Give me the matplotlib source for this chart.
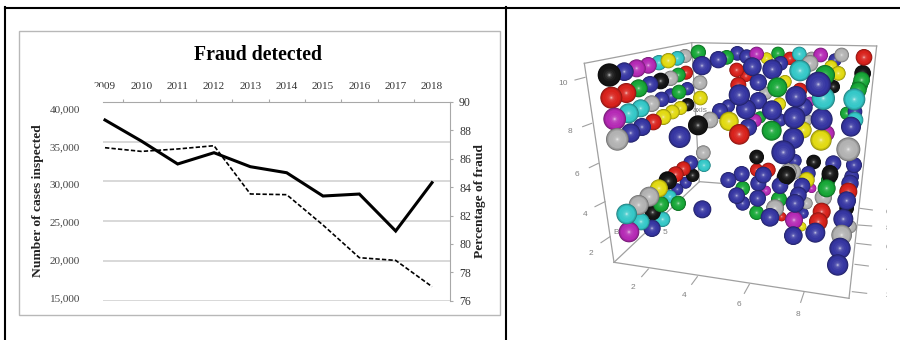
import matplotlib
matplotlib.use("Agg")
import matplotlib.pyplot as plt
from matplotlib.patches import Circle, Rectangle
from matplotlib.lines import Line2D
from matplotlib.colors import to_rgb
import numpy as np

W, H = 900, 340
SERIF = ['Liberation Serif', 'DejaVu Serif']
SANS = ['Liberation Sans', 'DejaVu Sans']

# ---------- left chart data ----------
years = ['2009', '2010', '2011', '2012', '2013', '2014', '2015', '2016', '2017', '2018']
cases_inspected = [37735, 35090, 32200, 33620, 31860, 31100, 28170, 28420, 23770, 29850]
pct_fraud = [86.78, 86.52, 86.69, 86.92, 83.52, 83.47, 81.33, 79.03, 78.84, 76.99]
cases_ticks = [15000, 20000, 25000, 30000, 35000, 40000]
pct_ticks = [76, 78, 80, 82, 84, 86, 88, 90]

# ---------- right chart data (x, y, radius) in the projected plane, per colour ----------
black = [(208,135,35),(362,153,25),(443,224,20),(474,286,30),(382,450,26),(458,436,20),(880,170,20),(968,130,25),
         (650,381,22),(821,396,22),(735,442,25),(870,435,25),(385,453,26),(338,547,24),(740,435,27),(870,430,25),(920,535,22)]
blue = [(253,125,28),(330,163,25),(365,208,23),(393,197,22),(442,176,20),(272,309,29),(306,291,27),(419,321,33),(452,398,22),
        (486,107,29),(535,89,26),(592,70,22),(620,80,22),(885,90,20),(637,110,28),(697,118,30),(722,100,22),(655,157,26),
        (598,195,32),(655,212,26),(768,200,32),(835,163,38),(618,238,30),(696,241,30),(540,243,24),(565,228,20),(625,292,26),
        (790,232,28),(763,263,33),(845,268,33),(720,270,20),(760,325,32),(933,290,30),(945,245,22),(730,367,36),(765,392,20),
        (880,400,24),(942,405,24),(605,432,24),(565,450,24),(670,435,25),(805,430,22),(437,458,18),(412,478,18),(336,595,26),
        (487,538,27),(655,460,24),(670,435,24),(720,467,25),(590,497,25),(608,520,22),(653,505,25),(690,562,28),(765,520,28),
        (786,468,25),(775,495,25),(790,550,16),(760,617,28),(826,608,30),(935,440,22),(930,460,26),(920,512,28),(910,567,30),
        (900,655,32),(893,705,32)]
magenta = [(290,115,27),(325,106,25),(224,267,34),(650,72,22),(842,75,22),(645,272,20),(810,215,15),(860,310,24),
           (267,606,31),(678,482,15),(815,475,14),(762,570,27)]
cyan = [(357,98,23),(412,85,22),(266,250,30),(302,235,27),(492,406,20),(778,72,22),(780,122,32),(850,205,35),(943,208,33),
        (945,270,25),(390,500,20),(260,552,31),(303,575,26),(368,568,23)]
yellow = [(385,92,23),(370,261,24),(397,246,22),(421,234,21),(481,204,22),(680,85,18),(873,110,20),(735,155,20),(950,195,22),
          (895,130,22),(567,274,29),(718,222,20),(790,300,25),(843,330,32),(357,475,27),(800,450,24),(785,590,14)]
green = [(415,135,22),(296,175,27),(417,186,22),(475,67,23),(560,82,22),(714,70,20),(712,172,30),(855,135,30),(965,150,25),
         (960,165,24),(955,180,25),(660,262,18),(920,250,20),(695,302,30),(415,520,23),(363,523,24),(608,475,22),(717,508,24),
         (650,548,22),(860,475,27),(865,450,22)]
red = [(214,203,33),(259,189,30),(438,128,21),(340,276,25),(972,82,25),(750,85,20),(590,120,22),(618,138,18),(595,165,24),
       (780,180,22),(598,313,31),(430,416,22),(407,433,24),(650,420,20),(685,420,22),(725,560,14),(845,545,27),(835,575,28),(925,485,27)]
gray = [(435,78,21),(392,145,23),(335,221,25),(232,328,34),(480,158,22),(510,270,25),(490,368,22),(815,85,20),(905,75,22),
        (810,100,25),(677,190,20),(800,270,18),(925,358,36),(745,425,25),(328,500,30),(296,525,30),(705,535,27),(800,520,18),
        (850,502,26),(905,615,31),(930,590,20),(760,425,24)]
palette = {'black': ('#151515', black), 'blue': ('#3636a2', blue), 'magenta': ('#b52ab5', magenta),
           'cyan': ('#35c8c8', cyan), 'yellow': ('#e2da12', yellow), 'green': ('#18a838', green),
           'red': ('#d8221c', red), 'gray': ('#b2b2b2', gray)}

# right chart frame and ticks, same plane
box_edges = [((133,100),(455,38)), ((455,38),(1010,48)), ((133,100),(222,697)), ((222,697),(927,805)),
             ((1010,48),(927,805)), ((455,38),(478,455)), ((478,455),(222,697)), ((478,455),(570,462))]
z_ticks = [((105,150),(135,142)), ((128,290),(155,280)), ((148,413),(175,400)), ((165,530),(195,515)), ((183,638),(210,620))]
z_labels = [('10',70,160), ('8',90,305), ('6',112,435), ('4',135,555), ('2',152,670)]
x_ticks = [((305,740),(325,717)), ((455,763),(472,740)), ((613,790),(628,763)), ((782,817),(792,787))]
x_labels = [('2',280,772), ('4',433,797), ('6',597,823), ('8',775,853)]
y_ticks = [((937,785),(980,790)), ((945,703),(985,708)), ((950,640),(993,645)), ((955,585),(995,588)), ((960,535),(997,540))]
y_labels = [('2',1044,797), ('4',1044,718), ('6',1044,652), ('8',1044,596), ('0',1044,548)]


def px_axes(x0, y0, x1, y1):
    return [x0 / W, 1 - y1 / H, (x1 - x0) / W, (y1 - y0) / H]


fig = plt.figure(figsize=(W / 100, H / 100), dpi=100, facecolor='white')

# ---------- table borders ----------
for (x0, y0, x1, y1) in [(5, 7.5, 900, 7.5), (5, 7, 5, 340), (506, 7, 506, 340)]:
    fig.add_artist(Line2D([x0 / W, x1 / W], [1 - y0 / H, 1 - y1 / H], color='black', lw=1.5, zorder=-1))
fig.add_artist(Rectangle((18.5 / W, 1 - 315 / H), 481.5 / W, 284.5 / H, fc='white', ec='#b8b8b8', lw=1.0, zorder=-1))

# ---------- left chart ----------
ax = fig.add_axes(px_axes(103, 102, 450, 300.7))
ax.patch.set_alpha(0)
x = np.arange(len(years))
ax.set_xlim(-0.055, 9.495)
ax.set_ylim(15000, 40000)
ax.set_yticks(cases_ticks)
ax.grid(axis='y', color='#d6d6d6', lw=1.3)
ax.set_axisbelow(True)
for s in ['left', 'bottom', 'right']:
    ax.spines[s].set_visible(False)
ax.spines['top'].set_color('#a8a8a8')
ax.xaxis.tick_top()
ax.set_xticks(x[:-1] + 0.5)
ax.set_xticklabels([])
ax.tick_params(axis='x', which='major', length=2.5, color='#a8a8a8', width=0.8)
ax.set_xticks(x, minor=True)
ax.set_xticklabels(years, minor=True, family=SERIF, fontsize=8, color='#333333')
ax.tick_params(axis='x', which='minor', length=0, pad=8, top=True, labeltop=True, bottom=False, labelbottom=False)
ax.plot(x, cases_inspected, color='black', lw=2.2, solid_joinstyle='miter', zorder=4)

ax2 = ax.twinx()
ax.tick_params(axis='y', which='both', left=False, right=False, labelleft=False, labelright=False)
ax2.patch.set_alpha(0)
ax2.set_ylim(76, 90)
ax2.set_yticks(pct_ticks)
ax2.tick_params(axis='y', length=2.5, color='#a8a8a8', width=0.8, pad=4, labelsize=8.5, labelcolor='#333333')
for lab in ax2.get_yticklabels():
    lab.set_family(SERIF)
for s in ['left', 'top', 'bottom']:
    ax2.spines[s].set_visible(False)
ax2.spines['right'].set_color('#a8a8a8')
ax2.plot(x, pct_fraud, color='black', lw=1.2, dashes=(2.6, 1.3), zorder=3)

# left tick labels sit on their own slightly tighter scale, as in the reference
ax3 = fig.add_axes(px_axes(80, 108.5, 81, 297.5))
ax3.patch.set_alpha(0)
ax3.set_ylim(15000, 40000)
ax3.set_xticks([])
ax3.set_yticks(cases_ticks)
ax3.set_yticklabels([f'{v:,}' for v in cases_ticks], family=SERIF, fontsize=8, color='#444444')
ax3.tick_params(axis='y', length=0, pad=0)
for s in ax3.spines.values():
    s.set_visible(False)

fig.text(258.5 / W, 1 - 55 / H, 'Fraud detected', family=SERIF, fontweight='bold', fontsize=14.2,
         ha='center', va='center', color='black')
fig.text(38.5 / W, 1 - 201 / H, 'Number of cases inspected', family=SERIF, fontweight='bold', fontsize=9.7,
         rotation=90, ha='center', va='center', color='#222222')
fig.text(480 / W, 1 - 201 / H, 'Percentage of fraud', family=SERIF, fontweight='bold', fontsize=9.7,
         rotation=90, ha='center', va='center', color='#222222')
# the reference's crop eats the lower part of the first two digits of 2009
fig.add_artist(Rectangle((92 / W, 1 - 92 / H), 10.5 / W, 5 / H, fc='white', ec='none', zorder=10))

# ---------- right chart ----------
ar = fig.add_axes(px_axes(540, 30, 887, 340))
ar.set_xlim(0, 1041)
ar.set_ylim(930, 0)
ar.axis('off')

LINE = '#a0a0a0'
for a, b in box_edges:
    ar.plot([a[0], b[0]], [a[1], b[1]], color=LINE, lw=0.9, zorder=1)
for a, b in z_ticks + x_ticks + y_ticks:
    ar.plot([a[0], b[0]], [a[1], b[1]], color=LINE, lw=0.8, zorder=1)
for t, tx, ty in z_labels + x_labels + y_labels:
    ar.text(tx, ty, t, family=SANS, fontsize=6, color='#808080', ha='center', va='center', zorder=1, clip_on=True)
ar.text(480, 240, 'axis', family=SANS, fontsize=6, color='#808080', ha='center', va='center', zorder=1)
ar.text(230, 608, 'B', family=SANS, fontsize=6, color='#808080', ha='center', va='center', zorder=1)
ar.text(375, 608, '5', family=SANS, fontsize=6, color='#808080', ha='center', va='center', zorder=1)


def mix(c, t, k):
    c, t = np.array(to_rgb(c)), np.array(t)
    return tuple(c + (t - c) * k)


spheres = []
for name, (col, pts) in palette.items():
    for p in pts:
        spheres.append((p[2], p[0], p[1], col, name))
spheres.sort(key=lambda s: s[0])

for i, (r, sx, sy, col, name) in enumerate(spheres):
    z = 2 + i * 0.01
    layers = [(1.00, mix(col, (0, 0, 0), 0.38)), (0.95, mix(col, (0, 0, 0), 0.22)), (0.88, mix(col, (0, 0, 0), 0.10)),
              (0.78, col), (0.55, mix(col, (1, 1, 1), 0.04)), (0.38, mix(col, (1, 1, 1), 0.10)),
              (0.24, mix(col, (1, 1, 1), 0.20)), (0.14, mix(col, (1, 1, 1), 0.38)), (0.07, mix(col, (1, 1, 1), 0.65))]
    for frac, c in layers:
        ar.add_patch(Circle((sx, sy), r * frac, fc=c, ec='none', zorder=z))

fig.savefig('out.png', dpi=100)
